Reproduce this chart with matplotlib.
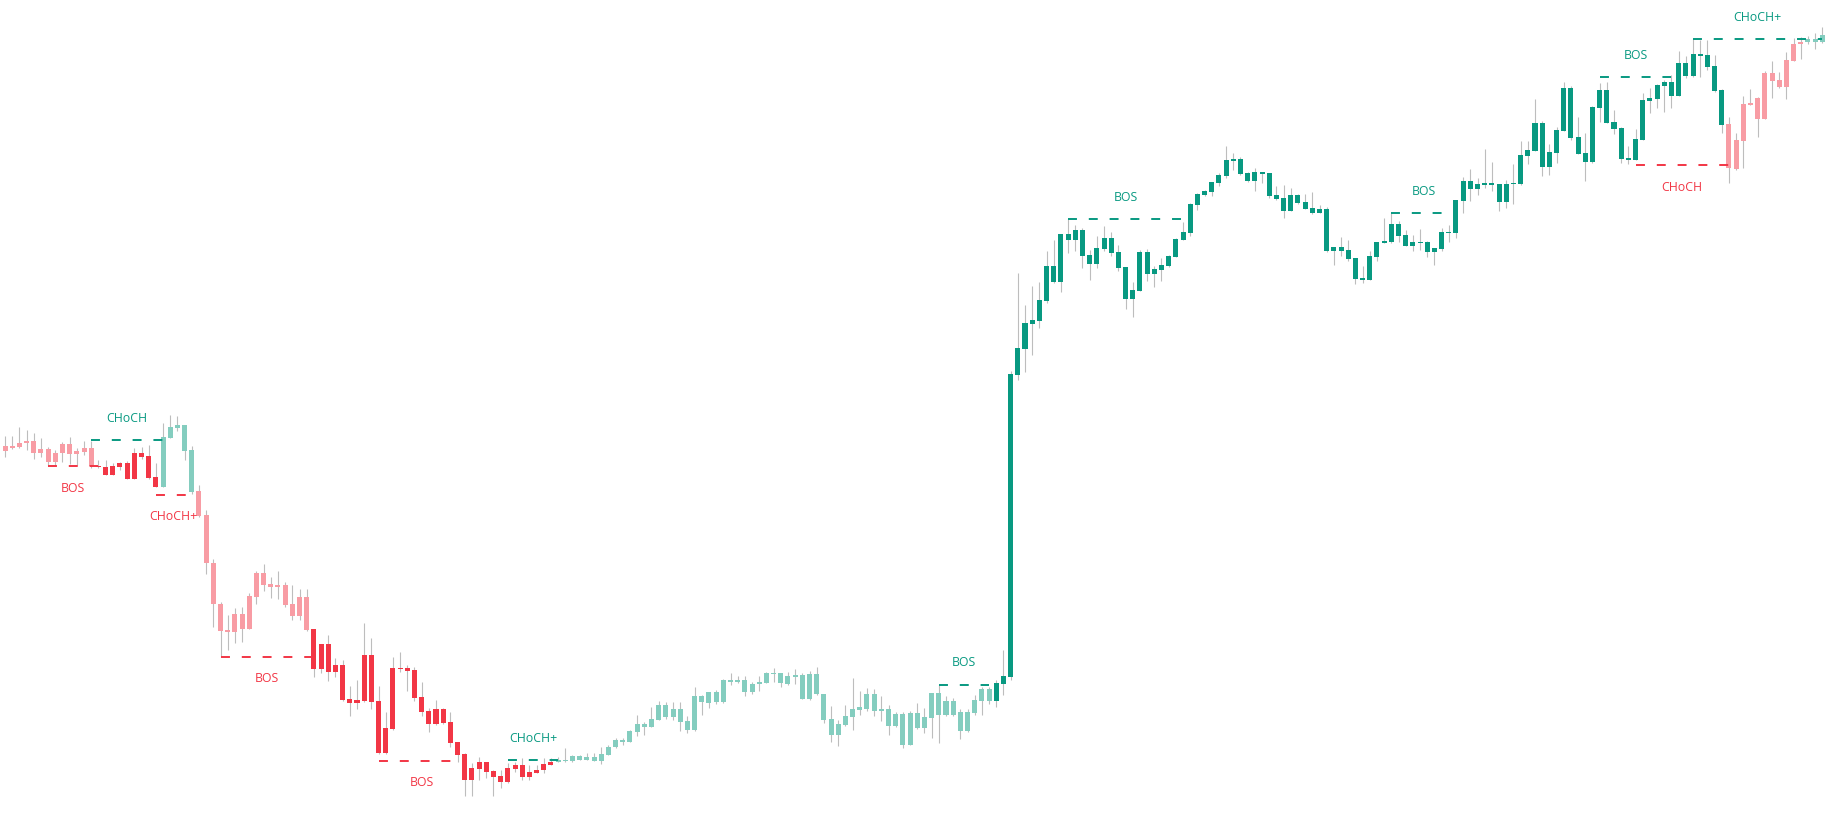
import numpy as np
import matplotlib
matplotlib.use('Agg')
import matplotlib.pyplot as plt

# ==============================================================
# OHLC (arbitrary price units, no axis shown)
opens = [
    367, 371, 371, 374, 376, 376, 368, 368, 364, 373,
    373, 366, 369, 369, 351, 350, 351, 354, 354, 364,
    364, 361, 340, 330, 379, 389, 366, 325, 326, 302,
    254, 213, 187, 203, 203, 221, 244, 244, 233, 232,
    232, 213, 220, 220, 188, 173, 173, 152, 152, 118,
    117, 162, 162, 116, 89, 149, 149, 149, 147, 120,
    106, 108, 108, 95, 75, 63, 49, 55, 55, 46,
    41, 49, 52, 52, 45, 47, 53, 55, 55, 56,
    56, 57, 57, 56, 56, 62, 70, 75, 75, 85,
    90, 90, 97, 100, 100, 95, 87, 87, 115, 114,
    115, 115, 135, 135, 125, 125, 133, 134, 143, 134,
    133, 140, 118, 118, 123, 97, 82, 82, 92, 100,
    107, 108, 106, 106, 91, 91, 72, 72, 89, 89,
    99, 102, 102, 102, 86, 86, 104, 116, 116, 116,
    133, 140, 442, 468, 493, 496, 516, 535, 535, 577,
    577, 561, 553, 553, 568, 564, 549, 518, 518, 526,
    543, 543, 547, 551, 560, 577, 584, 612, 622, 625,
    634, 641, 656, 643, 636, 636, 643, 621, 618, 606,
    606, 614, 608, 604, 604, 566, 566, 566, 558, 538,
    537, 537, 560, 574, 575, 581, 571, 571, 574, 565,
    565, 568, 584, 584, 616, 628, 628, 632, 632, 615,
    615, 633, 633, 661, 666, 650, 650, 664, 686, 679,
    663, 655, 655, 709, 694, 688, 658, 657, 657, 677,
    716, 718, 731, 721, 721, 741, 741, 761, 750, 726,
    692, 693, 677, 713, 714, 719, 744, 744, 737, 757,
    773, 775, 775, 775, 775,
]
highs = [
    370, 381, 381, 390, 387, 384, 379, 370, 367, 375,
    380, 369, 376, 376, 357, 357, 354, 355, 356, 369,
    370, 372, 354, 394, 402, 401, 392, 371, 332, 307,
    258, 215, 202, 209, 210, 224, 246, 253, 240, 246,
    235, 232, 228, 228, 188, 173, 182, 159, 157, 131,
    137, 194, 179, 131, 105, 160, 165, 152, 150, 135,
    109, 117, 109, 105, 75, 64, 54, 60, 55, 47,
    47, 54, 55, 59, 52, 52, 59, 59, 60, 69,
    62, 62, 64, 64, 70, 72, 79, 79, 87, 102,
    95, 110, 116, 115, 115, 115, 101, 130, 122, 125,
    127, 138, 144, 141, 141, 135, 141, 145, 149, 144,
    145, 148, 144, 146, 150, 123, 111, 97, 112, 139,
    126, 129, 128, 121, 112, 105, 105, 106, 114, 109,
    124, 132, 121, 119, 108, 108, 122, 130, 130, 137,
    167, 446, 544, 512, 531, 535, 566, 577, 583, 598,
    592, 589, 567, 581, 591, 585, 572, 550, 535, 567,
    568, 551, 559, 562, 579, 595, 614, 624, 627, 635,
    644, 671, 664, 660, 645, 649, 645, 644, 631, 632,
    629, 623, 623, 625, 612, 610, 570, 580, 577, 559,
    551, 566, 575, 599, 604, 596, 587, 582, 588, 576,
    569, 589, 592, 617, 640, 648, 639, 668, 655, 633,
    637, 653, 676, 676, 718, 696, 673, 690, 735, 731,
    700, 684, 711, 734, 735, 707, 690, 671, 688, 724,
    729, 733, 737, 742, 766, 761, 778, 777, 777, 762,
    728, 700, 684, 721, 728, 720, 746, 756, 745, 765,
    779, 780, 781, 784, 790,
]
lows = [
    353, 360, 368, 369, 367, 358, 360, 352, 352, 355,
    353, 352, 362, 349, 349, 342, 342, 347, 338, 338,
    358, 338, 330, 330, 379, 386, 357, 323, 300, 243,
    190, 160, 167, 174, 175, 188, 213, 226, 219, 218,
    210, 197, 197, 186, 140, 144, 136, 140, 116, 101,
    108, 115, 108, 63, 63, 87, 145, 126, 116, 101,
    85, 92, 93, 70, 55, 21, 21, 37, 39, 21,
    29, 34, 45, 37, 37, 44, 44, 52, 55, 55,
    55, 57, 57, 56, 53, 62, 69, 72, 75, 81,
    82, 90, 97, 98, 97, 86, 84, 86, 102, 109,
    113, 114, 132, 134, 121, 123, 126, 134, 135, 130,
    132, 133, 118, 117, 122, 94, 75, 71, 91, 87,
    102, 106, 101, 96, 82, 90, 69, 72, 88, 84,
    79, 74, 101, 101, 78, 85, 102, 102, 113, 110,
    122, 137, 437, 445, 462, 489, 514, 534, 525, 564,
    566, 549, 537, 549, 566, 561, 546, 508, 500, 526,
    536, 530, 536, 550, 560, 577, 581, 607, 621, 621,
    631, 639, 647, 642, 635, 626, 634, 619, 617, 599,
    606, 613, 608, 603, 604, 565, 552, 561, 556, 533,
    534, 537, 556, 574, 574, 575, 571, 566, 567, 560,
    552, 566, 575, 579, 604, 616, 622, 629, 626, 606,
    609, 613, 632, 653, 666, 641, 642, 654, 686, 677,
    663, 636, 654, 695, 694, 683, 654, 653, 657, 677,
    704, 709, 705, 709, 721, 739, 740, 740, 747, 725,
    684, 634, 647, 649, 712, 680, 698, 719, 729, 718,
    756, 758, 773, 768, 774,
]
closes = [
    356, 366, 369, 370, 374, 364, 364, 355, 355, 364,
    363, 363, 365, 351, 350, 342, 342, 350, 338, 338,
    360, 339, 330, 380, 390, 392, 392, 367, 301, 254,
    213, 186, 185, 185, 188, 188, 220, 232, 230, 230,
    212, 201, 201, 187, 148, 148, 145, 145, 117, 114,
    114, 116, 115, 64, 64, 88, 148, 146, 119, 105,
    93, 93, 94, 74, 62, 37, 37, 48, 45, 40,
    35, 35, 48, 40, 40, 44, 47, 52, 57, 57,
    61, 61, 60, 60, 63, 70, 77, 77, 86, 93,
    93, 98, 112, 112, 108, 108, 96, 121, 121, 125,
    125, 137, 137, 137, 137, 133, 135, 144, 144, 144,
    141, 142, 142, 143, 143, 123, 98, 93, 101, 108,
    110, 123, 123, 108, 108, 103, 103, 104, 104, 100,
    124, 124, 116, 116, 105, 105, 117, 128, 128, 134,
    141, 443, 469, 494, 497, 517, 551, 551, 583, 583,
    587, 587, 562, 569, 579, 579, 565, 550, 527, 565,
    565, 548, 552, 561, 578, 585, 613, 623, 626, 635,
    642, 657, 658, 658, 644, 645, 645, 644, 622, 619,
    622, 622, 615, 609, 608, 608, 570, 570, 567, 559,
    539, 561, 575, 576, 593, 593, 582, 575, 575, 575,
    569, 585, 585, 617, 636, 636, 633, 634, 634, 633,
    633, 634, 662, 667, 694, 694, 665, 687, 729, 729,
    680, 664, 710, 727, 727, 695, 689, 659, 678, 717,
    719, 732, 735, 735, 754, 754, 763, 763, 762, 751,
    727, 649, 648, 676, 712, 698, 698, 736, 730, 730,
    756, 773, 778, 778, 782,
]

# trend state runs used to colour the candles: (state, number of candles)
trend_runs = [
    ('bear_weak', 14), ('bear', 9), ('bull_weak', 5), ('bear_weak', 16),
    ('bear', 34), ('bull_weak', 61), ('bull', 102), ('bear_weak', 11),
    ('bull_weak', 3),
]

# structure breaks: label, side, level, first candle, last candle
struct_labels = ['BOS', 'CHoCH', 'CHoCH+', 'BOS', 'BOS', 'CHoCH+',
                 'BOS', 'BOS', 'BOS', 'BOS', 'CHoCH', 'CHoCH+']
struct_side = ['bear', 'bull', 'bear', 'bear', 'bear', 'bull',
               'bull', 'bull', 'bull', 'bull', 'bear', 'bull']
struct_level = [351, 377, 322, 160, 56, 57, 132, 598, 604, 740, 652, 778]
struct_start = [7, 13, 22, 31, 53, 71, 131, 149, 194, 223, 228, 236]
struct_end = [14, 23, 27, 44, 65, 78, 138, 165, 203, 233, 241, 254]

GREEN = '#089981'
RED = '#f23645'
state_colors = {'bull': GREEN, 'bull_weak': '#84cdbf',
                'bear': RED, 'bear_weak': '#f89ca4'}
WICK = '#bdbdbd'


# ==============================================================
def candles(ax):
    o = np.array(opens, float)
    h = np.array(highs, float)
    l = np.array(lows, float)
    c = np.array(closes, float)
    x = np.arange(len(o))

    cols = []
    for state, n in trend_runs:
        cols += [state_colors[state]] * n

    ax.vlines(x, l, h, color=WICK, lw=0.8, zorder=1)
    bottom = np.minimum(o, c)
    height = np.maximum(np.abs(c - o), 1.2)
    ax.bar(x, height, bottom=bottom, width=0.7, color=cols, lw=0, zorder=2)


def structures(ax):
    for lab, side, lvl, i0, i1 in zip(struct_labels, struct_side, struct_level,
                                      struct_start, struct_end):
        col = GREEN if side == 'bull' else RED
        ax.plot([i0, i1], [lvl, lvl], color=col, lw=1.4,
                ls=(0, (4.6, 6.1)), zorder=3)
        off = 22 if side == 'bull' else -22
        ax.text((i0 + i1) / 2, lvl + off, lab, color=col, fontsize=8.8,
                ha='center', va='center', family='Open Sans', zorder=4)


# ==============================================================
if __name__ == '__main__':
    fig = plt.figure(figsize=(18.43, 8.17), dpi=100)
    ax = fig.add_axes([0, 0, 1, 1])
    candles(ax)
    structures(ax)
    ax.set_xlim(0.30, 256.88)
    ax.set_ylim(0, 817)
    ax.axis('off')
    fig.savefig('out.png', dpi=100, facecolor='white')
